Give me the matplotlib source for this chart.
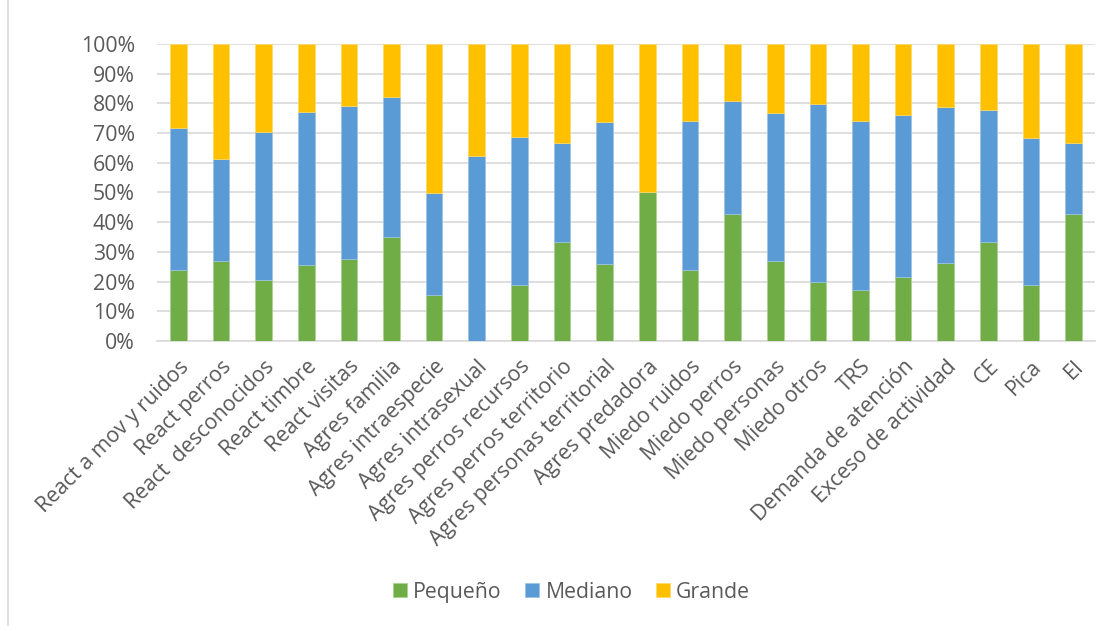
#stacked 100% bar chart by size
import matplotlib.pyplot as plt
import numpy as np
from matplotlib.ticker import PercentFormatter
from matplotlib.patches import Rectangle

plt.rcParams['font.family'] = ['Open Sans', 'DejaVu Sans']

#data (percent)
categorias = ["React a mov y ruidos", "React perros", "React  desconocidos", "React timbre",
              "React visitas", "Agres familia", "Agres intraespecie", "Agres intrasexual",
              "Agres perros recursos", "Agres perros territorio", "Agres personas territorial",
              "Agres predadora", "Miedo ruidos", "Miedo perros", "Miedo personas", "Miedo otros",
              "TRS", "Demanda de atención", "Exceso de actividad", "CE", "Pica", "EI"]
pequeno = [24.0, 26.8, 20.4, 25.6, 27.5, 35.1, 15.4, 0.0, 18.7, 33.3, 25.9,
           50.0, 23.9, 42.9, 26.8, 20.0, 17.1, 21.4, 26.2, 33.3, 18.7, 42.9]
mediano = [47.8, 34.6, 50.1, 51.4, 51.7, 47.1, 34.4, 62.4, 49.9, 33.3, 47.9,
           0.0, 50.1, 38.0, 50.1, 59.9, 57.1, 54.6, 52.6, 44.4, 49.8, 23.8]
grande = [100 - p - m for p, m in zip(pequeno, mediano)]

colores = ["#70AD47", "#5B9BD5", "#FFC000"]
texto = "#595959"

fig = plt.figure(figsize=(11.12, 6.26), dpi=100)
ax = fig.add_axes([0.1412, 0.4553, 0.8435, 0.4744])

x = np.arange(len(categorias))
ancho = 0.39
ax.bar(x, pequeno, ancho, color=colores[0], label="Pequeño", edgecolor="#A9D18E", linewidth=0.5, zorder=3)
ax.bar(x, mediano, ancho, bottom=pequeno, color=colores[1], label="Mediano", edgecolor="#9DC3E6", linewidth=0.5, zorder=3)
base2 = [p + m for p, m in zip(pequeno, mediano)]
ax.bar(x, grande, ancho, bottom=base2, color=colores[2], label="Grande", edgecolor="#FFD966", linewidth=0.5, zorder=3)

ax.set_xlim(-0.5, len(categorias) - 0.5)
ax.set_ylim(0, 100)
ax.set_yticks(range(0, 101, 10))
ax.yaxis.set_major_formatter(PercentFormatter(decimals=0))
ax.grid(axis="y", color="#D9D9D9", linewidth=1.2, zorder=0)
for s in ["top", "right", "left"]:
    ax.spines[s].set_visible(False)
ax.spines["bottom"].set_color("#D9D9D9")
ax.spines["bottom"].set_linewidth(1.2)
ax.tick_params(axis="both", length=0, colors=texto, labelsize=15.3)
ax.tick_params(axis="y", pad=16)
ax.tick_params(axis="x", pad=11)
ax.set_xticks(x)
ax.set_xticklabels(categorias, rotation=45, ha="right", rotation_mode="anchor")

leg = fig.legend(loc="center", bbox_to_anchor=(0.514, 0.054), ncol=3, frameon=False,
                 fontsize=15.3, handlelength=0.65, handleheight=0.65, handletextpad=0.3,
                 columnspacing=1.1, labelcolor=texto)

#chart border
fig.patches.append(Rectangle((0.007, -0.01), 1.2, 1.2, transform=fig.transFigure,
                             fill=False, edgecolor="#D9D9D9", linewidth=1.2))

fig.savefig("out.png", dpi=100)
